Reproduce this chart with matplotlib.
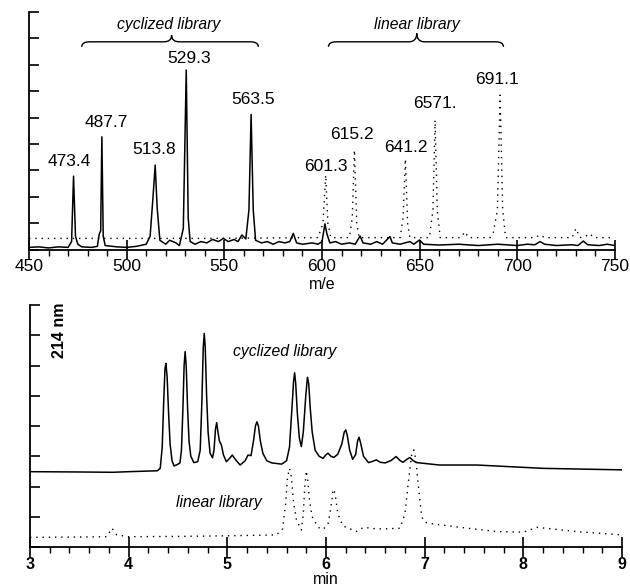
import numpy as np
import matplotlib
matplotlib.use('Agg')
import matplotlib.pyplot as plt
from matplotlib.path import Path
from matplotlib.patches import PathPatch
from matplotlib.ticker import MultipleLocator

plt.rcParams['font.family'] = ['Liberation Sans', 'DejaVu Sans']

# ---- mass spectrum (top) ----
ms_cyc_x = [450, 455, 460, 465, 470, 471.8, 472.8, 473.8, 475, 477, 482, 485, 486, 486.7, 487.3, 488, 489,
            495, 500, 505, 510, 512, 513.5, 514.6, 515.6, 517, 520, 522, 525, 527, 529, 530.5, 531.5, 532.5,
            535, 538, 541, 544, 547, 549.5, 552, 555, 557, 559, 561, 562.6, 563.7, 564.8, 566, 569, 572,
            575, 578, 581, 583.5, 585.3, 587, 590, 595, 598, 600, 601.5, 602.5, 604, 607, 610, 614, 617,
            619.5, 621, 625, 628, 631, 634.8, 636, 640, 645, 647, 649.9, 652, 660, 670, 680, 690, 700, 705,
            709, 711.6, 714, 720, 728, 731, 733.8, 736, 742, 746, 750]
ms_cyc_y = [0.08, 0.1, 0.06, 0.1, 0.08, 0.3, 2.78, 0.5, 0.2, 0.1, 0.08, 0.12, 0.6, 0.7, 4.27, 0.5, 0.15,
            0.1, 0.08, 0.12, 0.2, 0.5, 2.0, 3.2, 1.6, 0.35, 0.2, 0.35, 0.26, 0.15, 0.8, 6.8, 1.2, 0.3,
            0.2, 0.3, 0.25, 0.38, 0.3, 0.42, 0.3, 0.38, 0.3, 0.55, 0.4, 1.5, 5.12, 1.5, 0.35, 0.25, 0.3,
            0.2, 0.3, 0.25, 0.3, 0.61, 0.25, 0.2, 0.25, 0.2, 0.3, 0.97, 0.6, 0.25, 0.3, 0.2, 0.25, 0.2,
            0.51, 0.25, 0.2, 0.3, 0.2, 0.49, 0.25, 0.2, 0.3, 0.2, 0.36, 0.2, 0.17, 0.2, 0.15, 0.2, 0.15, 0.2,
            0.18, 0.3, 0.2, 0.15, 0.18, 0.15, 0.32, 0.18, 0.15, 0.2, 0.15]

ms_lin_x = [450, 540, 598, 600.5, 601.9, 603, 604.5, 614, 615.5, 616.6, 617.8, 619, 640, 641.5, 642.7,
            643.8, 645, 655, 656.8, 657.9, 659, 660.5, 671, 673.2, 675, 686, 687.7, 689.8, 691.2, 692.5,
            694, 709, 711.6, 714, 728, 730, 732, 735, 737.2, 739, 749]
ms_lin_y = [0.42, 0.42, 0.45, 1.0, 2.82, 1.0, 0.45, 0.45, 1.2, 3.77, 1.0, 0.45, 0.45, 1.2, 3.43,
            1.0, 0.45, 0.45, 1.5, 4.9, 1.5, 0.45, 0.45, 0.67, 0.45, 0.45, 0.64, 1.5, 5.85, 1.5,
            0.45, 0.45, 0.55, 0.45, 0.45, 0.8, 0.45, 0.5, 0.6, 0.45, 0.45]

peak_labels = ['473.4', '487.7', '513.8', '529.3', '563.5', '601.3', '615.2', '641.2', '6571.', '691.1']
peak_label_x = [470.5, 489.4, 514, 532, 564.7, 602, 615.5, 643, 658, 689.6]
peak_label_y = [3.35, 4.80, 3.78, 7.25, 5.68, 3.15, 4.37, 3.88, 5.54, 6.46]

# ---- HPLC trace (bottom) ----
lc_cyc_x = [3.0, 3.5, 3.84, 4.0, 4.29, 4.32, 4.34, 4.355, 4.368, 4.378, 4.39, 4.405, 4.42, 4.44, 4.46,
            4.49, 4.52, 4.535, 4.55, 4.562, 4.572, 4.583, 4.597, 4.612, 4.63, 4.66, 4.70, 4.725, 4.742,
            4.756, 4.766, 4.776, 4.79, 4.805, 4.825, 4.85, 4.865, 4.88, 4.892, 4.905, 4.92, 4.94, 4.96,
            4.99, 5.02, 5.05, 5.08, 5.13, 5.18, 5.21, 5.24, 5.265, 5.285, 5.30, 5.315, 5.335, 5.36, 5.4,
            5.45, 5.55, 5.6, 5.63, 5.655, 5.672, 5.682, 5.693, 5.71, 5.73, 5.75, 5.77, 5.795, 5.812,
            5.825, 5.84, 5.86, 5.89, 5.93, 5.97, 6.0, 6.02, 6.05, 6.08, 6.12, 6.16, 6.185, 6.2, 6.215,
            6.24, 6.27, 6.3, 6.32, 6.335, 6.35, 6.38, 6.43, 6.48, 6.51, 6.55, 6.60, 6.66, 6.71, 6.75,
            6.78, 6.82, 6.85, 6.88, 6.92, 7.15, 7.53, 8.2, 9.0]
lc_cyc_y = [2.49, 2.48, 2.47, 2.49, 2.52, 2.6, 3.3, 4.8, 5.9, 6.07, 5.6, 4.4, 3.4, 2.85, 2.68,
            2.72, 2.78, 3.2, 4.6, 6.0, 6.46, 6.0, 4.6, 3.5, 3.0, 2.79, 2.82, 3.2, 4.8,
            6.6, 7.06, 6.6, 5.0, 3.8, 3.1, 2.95, 3.2, 3.9, 4.11, 3.8, 3.5, 3.37, 3.05,
            2.82, 2.92, 3.04, 2.9, 2.71, 2.85, 3.04, 3.02, 3.5, 4.0, 4.14, 4.0, 3.5, 3.1, 2.85,
            2.78, 2.74, 2.85, 3.3, 4.6, 5.5, 5.76, 5.4, 4.4, 3.6, 3.32, 3.8, 5.0, 5.61,
            5.4, 4.6, 3.8, 3.2, 3.0, 2.93, 3.05, 3.1, 3.0, 2.96, 3.07, 3.4, 3.8, 3.87, 3.7,
            3.2, 2.9, 3.05, 3.5, 3.63, 3.45, 3.0, 2.79, 2.84, 2.88, 2.8, 2.78, 2.86, 2.99, 2.86,
            2.8, 2.9, 2.96, 2.86, 2.79, 2.71, 2.71, 2.6, 2.55]

lc_lin_x = [3.0, 3.5, 3.78, 3.83, 3.88, 4.0, 4.5, 5.0, 5.5, 5.56, 5.59, 5.61, 5.63, 5.65, 5.67, 5.70,
            5.75, 5.77, 5.785, 5.80, 5.815, 5.835, 5.86, 5.92, 5.97, 6.02, 6.05, 6.07, 6.08, 6.095,
            6.12, 6.17, 6.31, 6.38, 6.51, 6.6, 6.75, 6.8, 6.84, 6.87, 6.89, 6.91, 6.94, 6.97, 7.0,
            7.05, 7.36, 7.73, 8.0, 8.14, 8.54, 9.0]
lc_lin_y = [0.32, 0.33, 0.34, 0.62, 0.4, 0.34, 0.35, 0.37, 0.4, 0.6, 1.4, 2.3, 2.6, 2.3, 1.5, 0.9,
            0.56, 1.1, 2.0, 2.52, 2.2, 1.5, 1.0, 0.65, 0.58, 0.75, 1.3, 1.85, 1.91, 1.7,
            1.1, 0.7, 0.51, 0.65, 0.6, 0.6, 0.62, 1.1, 2.3, 3.1, 3.21, 2.9, 1.9, 1.0, 0.82,
            0.78, 0.65, 0.51, 0.49, 0.65, 0.51, 0.4]

dotted = (0, (1, 3.5))


def brace(ax, x0, x1, xm, yend, yh, ytip, r):
    verts = [(x0, yend), (x0, yh), (x0 + r, yh),
             (xm - r, yh), (xm, yh), (xm, ytip),
             (xm, yh), (xm + r, yh),
             (x1 - r, yh), (x1, yh), (x1, yend)]
    codes = [Path.MOVETO, Path.CURVE3, Path.CURVE3,
             Path.LINETO, Path.CURVE3, Path.CURVE3,
             Path.CURVE3, Path.CURVE3,
             Path.LINETO, Path.CURVE3, Path.CURVE3]
    ax.add_patch(PathPatch(Path(verts, codes), fill=False, lw=1.0, color='black', clip_on=False))


def style_axis(ax, minor, bold):
    for s in ['top', 'right']:
        ax.spines[s].set_visible(False)
    for s in ['left', 'bottom']:
        ax.spines[s].set_linewidth(1.3)
    ax.xaxis.set_minor_locator(MultipleLocator(minor))
    ax.yaxis.set_major_locator(MultipleLocator(1))
    ax.tick_params(axis='y', direction='in', length=7, width=1.2, labelleft=False)
    ax.tick_params(axis='x', which='major', direction='inout', length=14, width=1.2, pad=0,
                   labelsize=12.5 if not bold else 11.5)
    ax.tick_params(axis='x', which='minor', direction='out', length=4, width=1.0)
    if bold:
        for t in ax.get_xticklabels():
            t.set_fontweight('bold')


fig = plt.figure(figsize=(6.3, 5.87), dpi=100)

ax1 = fig.add_axes([29 / 630, (587 - 249.5) / 587, 586 / 630, 237.5 / 587])
ax1.plot(ms_lin_x, ms_lin_y, color='black', lw=1.0, linestyle=dotted)
ax1.plot(ms_cyc_x, ms_cyc_y, color='black', lw=1.1)
ax1.set_xlim(450, 750)
ax1.set_ylim(0, 9)
ax1.set_xticks([450, 500, 550, 600, 650, 700, 750])
style_axis(ax1, 10, False)
ax1.set_xlabel('m/e', fontsize=11.5, labelpad=2)
for lab, x, y in zip(peak_labels, peak_label_x, peak_label_y):
    ax1.text(x, y, lab, fontsize=12.5, ha='center', va='center')
ax1.text(521.7, 8.54, 'cyclized library', fontsize=11.3, style='italic', ha='center', va='center')
ax1.text(648.5, 8.54, 'linear library', fontsize=11.3, style='italic', ha='center', va='center')
brace(ax1, 477, 567.4, 523, 7.68, 7.87, 8.12, 4)
brace(ax1, 603.3, 692.9, 648.5, 7.68, 7.87, 8.19, 4)

ax2 = fig.add_axes([30 / 630, 40 / 587, 592 / 630, 242 / 587])
ax2.plot(lc_lin_x, lc_lin_y, color='black', lw=1.0, linestyle=dotted)
ax2.plot(lc_cyc_x, lc_cyc_y, color='black', lw=1.1)
ax2.set_xlim(3, 9)
ax2.set_ylim(0, 8)
ax2.set_xticks([3, 4, 5, 6, 7, 8, 9])
style_axis(ax2, 0.2, True)
ax2.set_xlabel('min', fontsize=11.5, labelpad=0)
ax2.text(3.30, 7.17, '214 nm', fontsize=11.5, fontweight='bold', rotation=90, ha='center', va='center')
ax2.text(5.58, 6.46, 'cyclized library', fontsize=11.3, style='italic', ha='center', va='center')
ax2.text(4.91, 1.46, 'linear library', fontsize=11.3, style='italic', ha='center', va='center')

fig.savefig('out.png', dpi=100)
